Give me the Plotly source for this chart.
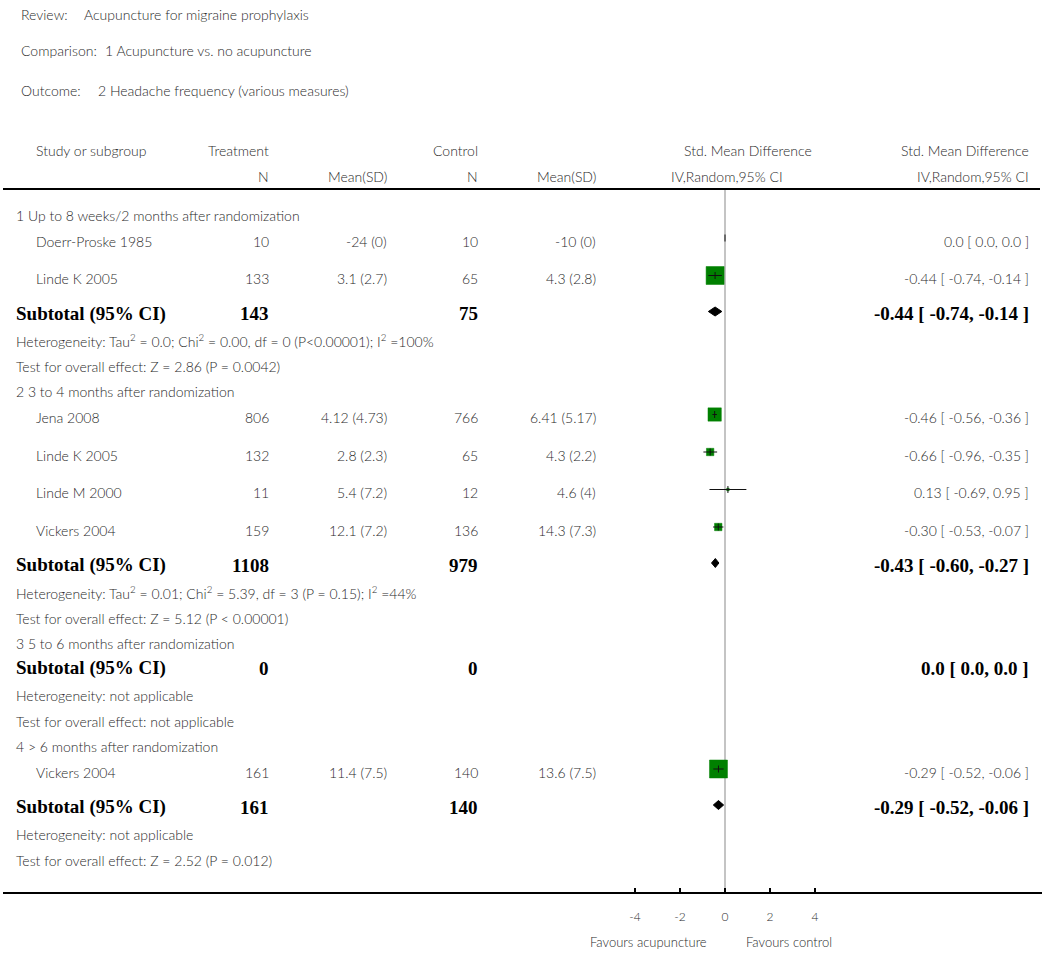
import math
import plotly.graph_objects as go

# ---------------- data ----------------
review = "Acupuncture for migraine prophylaxis"
comparison = "1 Acupuncture vs. no acupuncture"
outcome = "2 Headache frequency (various measures)"

subgroup_titles = [
    "1 Up to 8 weeks/2 months after randomization",
    "2 3 to 4 months after randomization",
    "3 5 to 6 months after randomization",
    "4 &gt; 6 months after randomization",
]

study_group = [0, 0, 1, 1, 1, 1, 3]
study_names = ["Doerr-Proske 1985", "Linde K 2005", "Jena 2008", "Linde K 2005",
               "Linde M 2000", "Vickers 2004", "Vickers 2004"]
trt_n = [10, 133, 806, 132, 11, 159, 161]
trt_mean = ["-24", "3.1", "4.12", "2.8", "5.4", "12.1", "11.4"]
trt_sd = ["0", "2.7", "4.73", "2.3", "7.2", "7.2", "7.5"]
ctl_n = [10, 65, 766, 65, 12, 136, 140]
ctl_mean = ["-10", "4.3", "6.41", "4.3", "4.6", "14.3", "13.6"]
ctl_sd = ["0", "2.8", "5.17", "2.2", "4", "7.3", "7.5"]
smd = [0.0, -0.44, -0.46, -0.66, 0.13, -0.30, -0.29]
smd_lo = [0.0, -0.74, -0.56, -0.96, -0.69, -0.53, -0.52]
smd_hi = [0.0, -0.14, -0.36, -0.35, 0.95, -0.07, -0.06]
weight = [0.0, 100.0, 55.0, 17.0, 2.0, 17.0, 100.0]

sub_trt_n = [143, 1108, 0, 161]
sub_ctl_n = [75, 979, 0, 140]
sub_smd = [-0.44, -0.43, 0.0, -0.29]
sub_lo = [-0.74, -0.60, 0.0, -0.52]
sub_hi = [-0.14, -0.27, 0.0, -0.06]
heterogeneity = [
    "Heterogeneity: Tau<sup>2</sup> = 0.0; Chi<sup>2</sup> = 0.00, df = 0 (P&lt;0.00001); I<sup>2</sup> =100%",
    "Heterogeneity: Tau<sup>2</sup> = 0.01; Chi<sup>2</sup> = 5.39, df = 3 (P = 0.15); I<sup>2</sup> =44%",
    "Heterogeneity: not applicable",
    "Heterogeneity: not applicable",
]
overall_effect = [
    "Test for overall effect: Z = 2.86 (P = 0.0042)",
    "Test for overall effect: Z = 5.12 (P &lt; 0.00001)",
    "Test for overall effect: not applicable",
    "Test for overall effect: Z = 2.52 (P = 0.012)",
]

axis_ticks = [-4, -2, 0, 2, 4]
axis_ticktext = ["-4", "-2", "0", "2", "4"]
favours_left = "Favours acupuncture"
favours_right = "Favours control"

# ---------------- layout constants ----------------
W, H = 1050, 955
X0_PX, PX_PER_UNIT = 725, 22.5
AXIS_Y = 893
RULE_Y = 189
COL = dict(left=15, study=35, trt_n=270, trt_ms=388, ctl_n=479, ctl_ms=597,
           plot_hdr=813, plot_hdr2=784, ci=1030)
GAP = {("title", "study"): 26, ("study", "study"): 37.5, ("study", "subtotal"): 35,
       ("title", "subtotal"): 25, ("subtotal", "het"): 27, ("het", "test"): 26,
       ("test", "title"): 25}
FIRST_ROW_Y = 215

SANS = "Lato, 'Open Sans', sans-serif"
REG = dict(family=SANS, size=14, color="#2a2a2a", weight=300)
BOLD = dict(family="'Liberation Serif', 'Times New Roman', serif", size=19,
            color="#000000", weight="bold")


def fmt(v):
    return "0.0" if v == 0 else f"{v:.2f}"


def ci_text(e, l, h):
    return f"{fmt(e)} [ {fmt(l)}, {fmt(h)} ]"


annotations = []


def txt(xpx, y, text, anchor="left", font=REG):
    annotations.append(dict(x=xpx / W, xref="paper", y=y, yref="y", text=text,
                            xanchor=anchor, yanchor="middle", showarrow=False,
                            font=font, borderpad=0))


# header
txt(20, 14, "Review:")
txt(83, 14, review)
txt(20, 50, "Comparison:")
txt(104, 50, comparison)
txt(20, 90, "Outcome:")
txt(97, 90, outcome)

txt(COL["study"], 150, "Study or subgroup")
txt(COL["trt_n"], 150, "Treatment", "right")
txt(COL["ctl_n"], 150, "Control", "right")
txt(COL["plot_hdr"], 150, "Std. Mean Difference", "right")
txt(COL["ci"], 150, "Std. Mean Difference", "right")
txt(COL["trt_n"], 176, "N", "right")
txt(COL["trt_ms"], 176, "Mean(SD)", "right")
txt(COL["ctl_n"], 176, "N", "right")
txt(COL["ctl_ms"], 176, "Mean(SD)", "right")
txt(COL["plot_hdr2"], 176, "IV,Random,95% CI", "right")
txt(COL["ci"], 176, "IV,Random,95% CI", "right")

# rows
study_y = [None] * len(study_names)
sub_y = [None] * len(subgroup_titles)
prev = None
y = None
for g, title in enumerate(subgroup_titles):
    y = FIRST_ROW_Y if prev is None else y + GAP[(prev, "title")]
    prev = "title"
    txt(COL["left"], y, title)
    for i, sg in enumerate(study_group):
        if sg != g:
            continue
        y += GAP[(prev, "study")]
        prev = "study"
        study_y[i] = y
        txt(COL["study"], y, study_names[i])
        txt(COL["trt_n"], y, str(trt_n[i]), "right")
        txt(COL["trt_ms"], y, f"{trt_mean[i]} ({trt_sd[i]})", "right")
        txt(COL["ctl_n"], y, str(ctl_n[i]), "right")
        txt(COL["ctl_ms"], y, f"{ctl_mean[i]} ({ctl_sd[i]})", "right")
        txt(COL["ci"], y, ci_text(smd[i], smd_lo[i], smd_hi[i]), "right")
    y += GAP[(prev, "subtotal")]
    prev = "subtotal"
    sub_y[g] = y
    txt(COL["left"], y, "Subtotal (95% CI)", font=BOLD)
    txt(COL["trt_n"], y, str(sub_trt_n[g]), "right", font=BOLD)
    txt(COL["ctl_n"], y, str(sub_ctl_n[g]), "right", font=BOLD)
    txt(COL["ci"], y, ci_text(sub_smd[g], sub_lo[g], sub_hi[g]), "right", font=BOLD)
    y += GAP[(prev, "het")]
    prev = "het"
    txt(COL["left"], y, heterogeneity[g])
    y += GAP[(prev, "test")]
    prev = "test"
    txt(COL["left"], y, overall_effect[g])

# favours labels
txt(648, 942, favours_left, "center", dict(REG, size=13))
txt(789, 942, favours_right, "center", dict(REG, size=13))

# ---------------- marks ----------------
MARK_DY = -3
sq_x, sq_y, sq_s = [], [], []
ci_x, ci_y = [], []
for i in range(len(study_names)):
    yy = study_y[i] + MARK_DY
    if weight[i] > 0:
        sq_x.append(smd[i])
        sq_y.append(yy)
        sq_s.append(18 * math.sqrt(weight[i] / 100))
    ci_x += [smd_lo[i], smd_hi[i], None]
    ci_y += [yy, yy, None]

dx, dy = [], []
for g in range(len(subgroup_titles)):
    if sub_trt_n[g] + sub_ctl_n[g] == 0:
        continue
    yy = sub_y[g] - 2
    dx += [sub_lo[g], sub_smd[g], sub_hi[g], sub_smd[g], sub_lo[g], None]
    dy += [yy, yy - 4.5, yy, yy + 4.5, yy, None]

fig = go.Figure()
fig.add_trace(go.Scatter(x=sq_x, y=sq_y, mode="markers",
                         marker=dict(symbol="square", size=sq_s, color="#008000", opacity=1,
                                     line=dict(color="#008000", width=0.5)),
                         hoverinfo="skip", showlegend=False))
fig.add_trace(go.Scatter(x=ci_x, y=ci_y, mode="lines", line=dict(color="#111111", width=1),
                         hoverinfo="skip", showlegend=False))
fig.add_trace(go.Scatter(x=smd, y=[v + MARK_DY for v in study_y], mode="markers",
                         marker=dict(symbol="line-ns", size=5, opacity=1,
                                     line=dict(color="#111111", width=1)),
                         hoverinfo="skip", showlegend=False))
fig.add_trace(go.Scatter(x=dx, y=dy, mode="lines", fill="toself", fillcolor="#000000",
                         line=dict(color="#000000", width=1),
                         hoverinfo="skip", showlegend=False))

shapes = [
    dict(type="line", xref="paper", yref="y", x0=3 / W, x1=1040 / W, y0=RULE_Y, y1=RULE_Y,
         line=dict(color="#000000", width=2)),
    dict(type="line", xref="paper", yref="y", x0=3 / W, x1=1042 / W, y0=AXIS_Y, y1=AXIS_Y,
         line=dict(color="#000000", width=2)),
    dict(type="line", xref="x", yref="y", x0=0, x1=0, y0=RULE_Y, y1=AXIS_Y,
         line=dict(color="#b0b0b0", width=1.5), layer="below"),
]

fig.update_layout(
    width=W, height=H, margin=dict(l=0, r=0, t=0, b=0),
    paper_bgcolor="white", plot_bgcolor="white",
    annotations=annotations, shapes=shapes, showlegend=False,
    xaxis=dict(domain=[0, 1], range=[-X0_PX / PX_PER_UNIT, (W - X0_PX) / PX_PER_UNIT],
               anchor="free", position=(H - AXIS_Y) / H,
               showgrid=False, zeroline=False, showline=False,
               tickmode="array", tickvals=axis_ticks, ticktext=axis_ticktext,
               ticks="inside", ticklen=5, tickwidth=1.5, tickcolor="#000000",
               ticklabelstandoff=15,
               tickfont=dict(family=SANS, size=12, color="#2a2a2a", weight=300),
               fixedrange=True),
    yaxis=dict(domain=[0, 1], range=[H, 0], visible=False, fixedrange=True),
)

fig.write_html("out.html", config={"displayModeBar": False},
               post_script="document.body.style.margin='0';")
